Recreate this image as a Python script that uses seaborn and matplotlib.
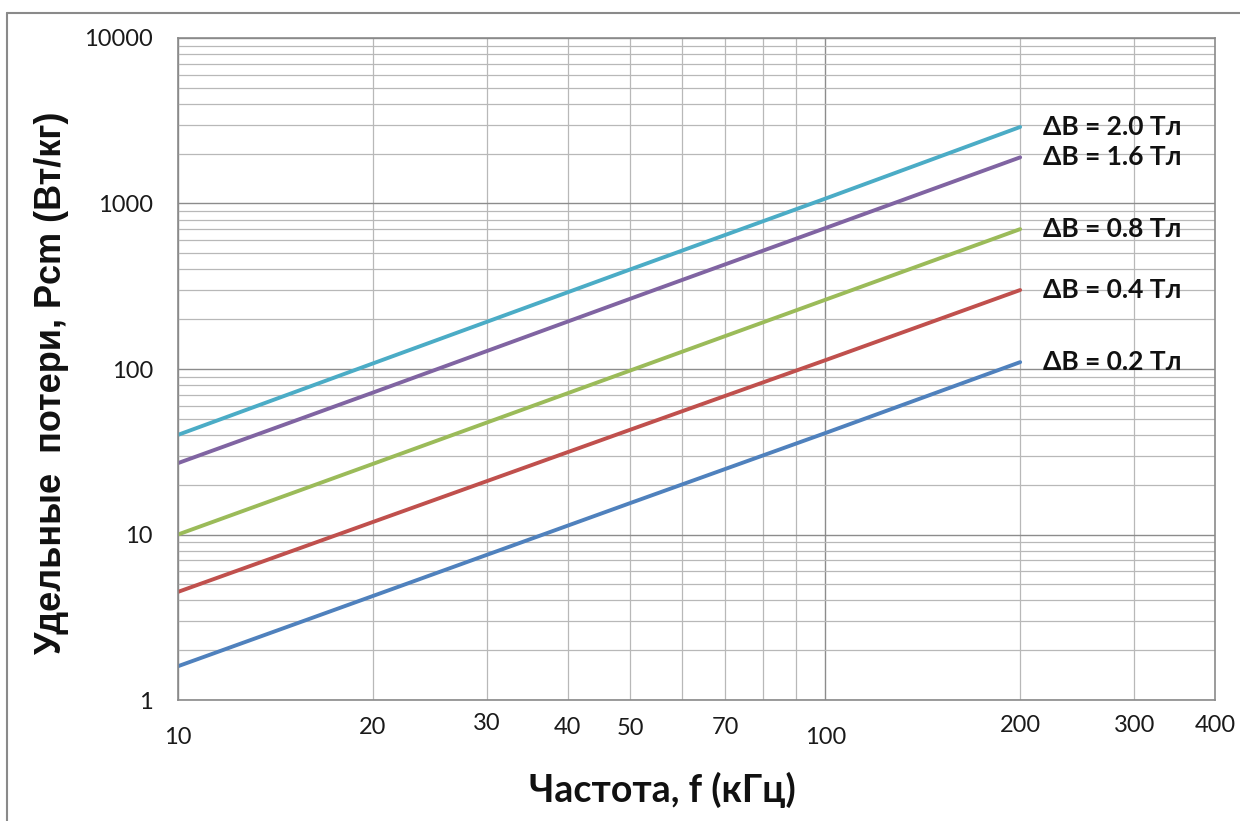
import matplotlib
matplotlib.use("Agg")
import matplotlib.pyplot as plt
from matplotlib.lines import Line2D
from matplotlib.ticker import FixedLocator, NullFormatter, LogLocator
import pandas as pd
import seaborn as sns

# Specific core loss vs. frequency for several flux swings
freq_khz = [10, 20, 50, 100, 200]
loss_b02 = [1.6, 4.25, 15.5, 41, 110]
loss_b04 = [4.5, 11.9, 43, 113, 300]
loss_b08 = [10, 26.7, 98, 262, 700]
loss_b16 = [27, 72, 266, 710, 1900]
loss_b20 = [40, 108, 400, 1070, 2900]
series_labels = ["ΔB = 0.2 Тл", "ΔB = 0.4 Тл", "ΔB = 0.8 Тл", "ΔB = 1.6 Тл", "ΔB = 2.0 Тл"]
line_colors = ["#4F81BD", "#C0504D", "#9BBB59", "#8064A2", "#4BACC6"]

x_tick_values = [10, 20, 30, 40, 50, 70, 100, 200, 300, 400]
x_tick_labels = ["10", "20", "30", "40", "50", "70", "100", "200", "300", "400"]
x_label_drop_px = [37, 27, 23, 27, 28, 27, 37, 25, 25, 25]
x_grid_values = [20, 30, 40, 50, 60, 70, 80, 90, 100, 200, 300]
y_tick_values = [1, 10, 100, 1000, 10000]
y_tick_labels = ["1", "10", "100", "1000", "10000"]

x_title = "Частота, f (кГц)"
y_title = "Удельные  потери, Рсm (Вт/кг)"

rows = []
for name, vals in zip(series_labels, [loss_b02, loss_b04, loss_b08, loss_b16, loss_b20]):
    for f, p in zip(freq_khz, vals):
        rows.append({"f": f, "P": p, "series": name})
df = pd.DataFrame(rows)

sns.set_theme(style="white")
plt.rcParams["font.family"] = ["Lato", "Open Sans", "DejaVu Sans"]

W, H = 1240, 821
fig = plt.figure(figsize=(W / 100, H / 100), dpi=100)
ax = fig.add_axes([178 / W, 1 - 700 / H, (1215 - 178) / W, (700 - 38) / H])

ax.set_xscale("log")
ax.set_yscale("log")
ax.set_xlim(10, 400)
ax.set_ylim(1, 10000)

# grid: every log-minor step horizontally, selected verticals
ax.yaxis.set_major_locator(FixedLocator(y_tick_values))
ax.yaxis.set_minor_locator(LogLocator(base=10, subs=range(2, 10)))
ax.yaxis.set_minor_formatter(NullFormatter())
ax.set_yticklabels(y_tick_labels)
ax.xaxis.set_major_locator(FixedLocator([10, 100]))
ax.xaxis.set_minor_locator(FixedLocator(x_grid_values))
ax.xaxis.set_major_formatter(NullFormatter())
ax.xaxis.set_minor_formatter(NullFormatter())
ax.grid(which="major", axis="both", color="#8c8c8c", linewidth=1.0)
ax.grid(which="minor", axis="both", color="#b8b8b8", linewidth=0.9)
ax.set_axisbelow(True)
ax.tick_params(which="both", length=0)
ax.tick_params(axis="y", pad=18, labelsize=17, labelcolor="#1a1a1a")
for s in ax.spines.values():
    s.set_color("#8a8a8a")
    s.set_linewidth(1.2)

sns.lineplot(data=df, x="f", y="P", hue="series", hue_order=series_labels,
             palette=line_colors, linewidth=2.8, legend=False, ax=ax)

for name, vals in zip(series_labels, [loss_b02, loss_b04, loss_b08, loss_b16, loss_b20]):
    ax.text(217, vals[-1], name, ha="left", va="center", fontsize=19,
            fontweight="bold", color="#111111")

for v, lab, drop in zip(x_tick_values, x_tick_labels, x_label_drop_px):
    ax.annotate(lab, xy=(v, 0), xycoords=("data", "axes fraction"),
                xytext=(0, -drop * 0.72), textcoords="offset points",
                ha="center", va="center", fontsize=17, color="#1a1a1a")

ax.set_xlabel("")
ax.set_ylabel("")
fig.text(662 / W, 1 - 790 / H, x_title, ha="center", va="center",
         fontsize=27, fontweight="bold", color="#111111")
fig.text(52 / W, 1 - 383 / H, y_title, ha="center", va="center", rotation=90,
         fontsize=26, fontweight="bold", color="#111111",
         family=["Liberation Sans", "DejaVu Sans"])

# outer frame edges
fig.add_artist(Line2D([7 / W, 1], [1 - 13 / H, 1 - 13 / H], color="#8a8a8a", linewidth=1.5))
fig.add_artist(Line2D([7 / W, 7 / W], [0, 1 - 13 / H], color="#8a8a8a", linewidth=1.5))

fig.savefig("out.png", dpi=100, facecolor="white")
